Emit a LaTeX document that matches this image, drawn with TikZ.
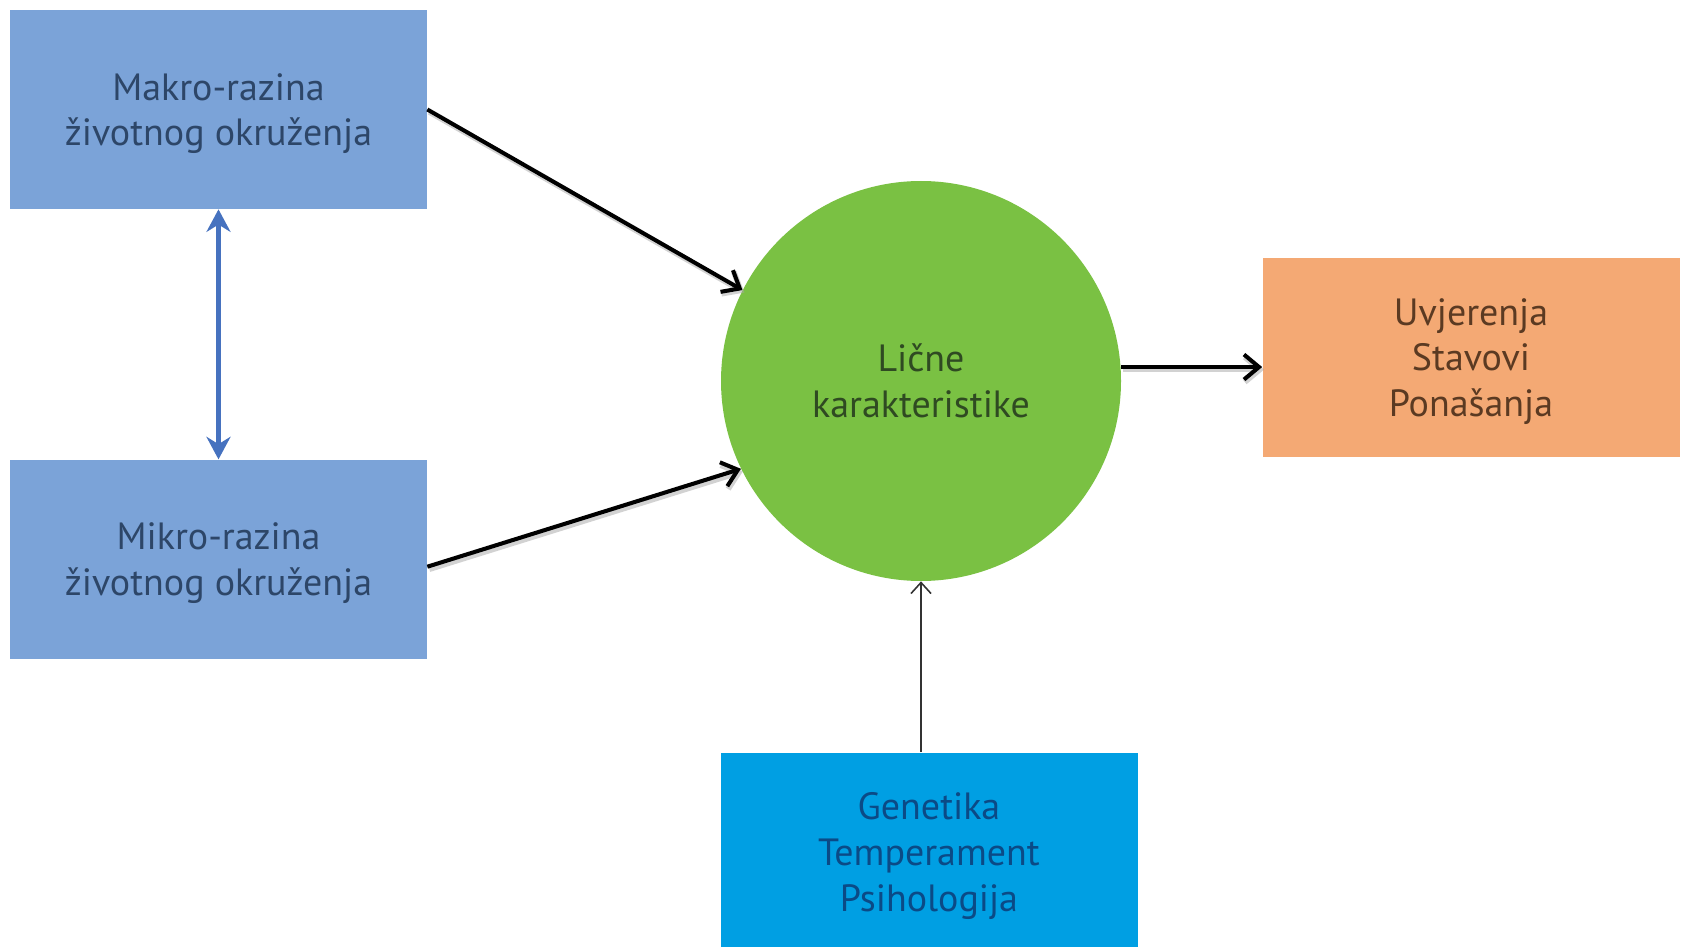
\documentclass[tikz,border=0pt]{standalone}
\usepackage{fontspec}
\setmainfont{PT Sans}
\usetikzlibrary{arrows.meta}
\usetikzlibrary{positioning}
\definecolor{levelblue}{HTML}{7BA3D8}
\definecolor{leveltext}{HTML}{2D4668}
\definecolor{personalgreen}{HTML}{7AC143}
\definecolor{personaltext}{HTML}{2F4A22}
\definecolor{outcomeorange}{HTML}{F4A974}
\definecolor{outcometext}{HTML}{5B3A22}
\definecolor{basisblue}{HTML}{009FE3}
\definecolor{basistext}{HTML}{0B4A86}
\definecolor{linkblue}{HTML}{4672BF}
\tikzset {
  box node/.style = {
    rectangle,
    minimum width = 8.34cm,
    minimum height = 3.98cm,
    inner sep = 0,
    align = center,
    font = \fontsize{21.6}{26}\selectfont,
    % push the lines a little below the middle
    text depth = -6.4pt
  },
  % life environment levels
  level/.style = {
    box node,
    fill = levelblue,
    text = leveltext
  },
  % personal characteristics
  person/.style = {
    circle,
    minimum size = 8cm,
    inner sep = 0,
    align = center,
    fill = personalgreen,
    text = personaltext,
    font = \fontsize{21.6}{26}\selectfont
  },
  outcome/.style = {
    box node,
    fill = outcomeorange,
    text = outcometext
  },
  basis/.style = {
    box node,
    fill = basisblue,
    text = basistext
  },
  % thick black influence arrow, with a soft shadow
  arr/.style = {
    draw = black,
    line width = 2.3pt,
    -{Straight Barb[length=0.3cm, width=0.5cm]},
    preaction = {
      draw = black!35,
      opacity = 0.5,
      line width = 3.2pt,
      transform canvas = {shift = {(0.04,-0.05)}}
    }
  },
  % thin arrow from below
  tarr/.style = {
    draw = black!80,
    line width = 0.9pt,
    -{Straight Barb[length=0.22cm, width=0.4cm]}
  },
  % two-way link between levels
  link/.style = {
    draw = linkblue,
    line width = 3pt,
    {Stealth[length=0.45cm, width=0.48cm]}-{Stealth[length=0.45cm, width=0.48cm]}
  }
}

\begin{document}
\begin{tikzpicture}
    \useasboundingbox (0,0) rectangle (33.72,-18.94);
    \clip (0,0) rectangle (33.72,-18.94);
    \node[level] (makro) at (4.37,-2.19) {Makro-razina\\životnog okruženja};
    \node[level] (mikro) [below=5cm of makro] {Mikro-razina\\životnog okruženja};
    \node[person] (licne) at (18.42,-7.62) {Lične\\karakteristike};
    \node[outcome] (ishod) at (29.42,-7.15) {Uvjerenja\\Stavovi\\Ponašanja};
    \node[basis] (osnova) at (18.58,-17.04) {Genetika\\Temperament\\Psihologija};
    \coordinate (licne-out) at (licne.4);

    \draw[link] (makro) -- (mikro);
    \draw[arr] (makro.east) -- (licne.153);
    \draw[arr] ([yshift=-0.15cm]mikro.east) -- (licne.206);
    \draw[arr] (licne-out) -- (licne-out -| ishod.west);
    \draw[tarr] (osnova.north -| licne.south) -- (licne.south);
  \end{tikzpicture}
\end{document}
